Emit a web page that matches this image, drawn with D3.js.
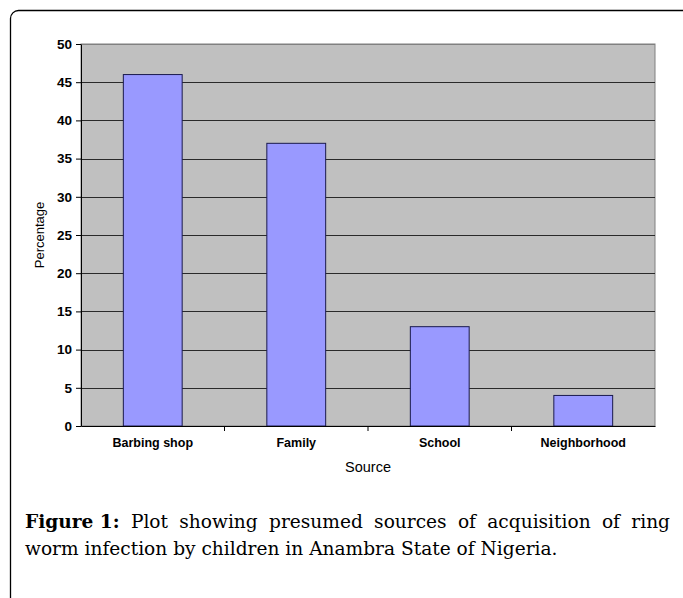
<!DOCTYPE html>
<html><head><meta charset="utf-8">
<script src="https://cdn.jsdelivr.net/npm/d3@7"></script>
<style>html,body{margin:0;padding:0;background:#fff;}svg{display:block;}</style>
</head><body>
<script>
const categories = ["Barbing shop", "Family", "School", "Neighborhood"];
const values = [46, 37, 13, 4];
const yTicks = [0, 5, 10, 15, 20, 25, 30, 35, 40, 45, 50];
const yLabel = "Percentage";
const xLabel = "Source";
const captionBold = "Figure 1:";
const captionLine1 = "Plot showing presumed sources of acquisition of ring";
const captionLine2 = "worm infection by children in Anambra State of Nigeria.";

(function () {
const W = 683, H = 598;
const svg = d3.select("body").append("svg").attr("width", W).attr("height", H);

// outer frame
svg.append("rect").attr("x", 10.5).attr("y", 10.5).attr("width", 690).attr("height", 620)
  .attr("rx", 8).attr("fill", "none").attr("stroke", "#000").attr("stroke-width", 1.3);

const pL = 81, pR = 655, pT = 44, pB = 426;
const x = d3.scaleBand().domain(categories).range([pL, pR]).paddingInner(0).paddingOuter(0);
const y = d3.scaleLinear().domain([0, 50]).range([pB, pT]);

// plot background
svg.append("rect").attr("x", pL).attr("y", pT).attr("width", pR - pL).attr("height", pB - pT)
  .attr("fill", "#c0c0c0").attr("stroke", "#808080").attr("stroke-width", 1);

// gridlines
svg.append("g").selectAll("line").data(yTicks.filter(d => d > 0)).join("line")
  .attr("x1", pL).attr("x2", pR)
  .attr("y1", d => Math.round(y(d)) + 0.5).attr("y2", d => Math.round(y(d)) + 0.5)
  .attr("stroke", d => d === 50 ? "#808080" : "#2a2a2a").attr("stroke-width", 1.2);

// bars
const bw = x.bandwidth() * 0.41;
svg.append("g").selectAll("rect").data(values).join("rect")
  .attr("x", (d, i) => x(categories[i]) + (x.bandwidth() - bw) / 2)
  .attr("y", d => y(d))
  .attr("width", bw)
  .attr("height", d => pB - y(d))
  .attr("fill", "#9999ff").attr("stroke", "#1a1a4d").attr("stroke-width", 1);

// y axis
const yAxis = d3.axisLeft(y).tickValues(yTicks).tickSize(5).tickSizeOuter(0).tickPadding(4);
const gy = svg.append("g").attr("transform", `translate(${pL},0)`).call(yAxis);
gy.select(".domain").attr("stroke", "#000");
gy.selectAll(".tick line").attr("stroke", "#000");
gy.selectAll("text").attr("font-family", "Liberation Sans, Arial, sans-serif")
  .attr("font-weight", "bold").attr("font-size", 13.5).attr("fill", "#000");

// x axis
const xAxis = d3.axisBottom(x).tickSize(0).tickSizeOuter(0).tickPadding(12);
const gx = svg.append("g").attr("transform", `translate(0,${pB})`).call(xAxis);
gx.select(".domain").attr("stroke", "#000");
gx.selectAll("text").attr("font-family", "Liberation Sans, Arial, sans-serif")
  .attr("font-weight", "bold").attr("font-size", 12.5).attr("fill", "#000");
svg.append("g").selectAll("line").data(categories.slice(1)).join("line")
  .attr("x1", d => x(d)).attr("x2", d => x(d))
  .attr("y1", pB).attr("y2", pB + 5).attr("stroke", "#000");

// axis titles
svg.append("text").attr("transform", `translate(44,${(pT + pB) / 2}) rotate(-90)`)
  .attr("text-anchor", "middle").attr("font-family", "Liberation Sans, Arial, sans-serif")
  .attr("font-size", 13).text(yLabel);
svg.append("text").attr("x", (pL + pR) / 2).attr("y", 472)
  .attr("text-anchor", "middle").attr("font-family", "Liberation Sans, Arial, sans-serif")
  .attr("font-size", 14.5).text(xLabel);

// caption
const font = "DejaVu Serif, Liberation Serif, serif";
const line2 = svg.append("text").attr("x", 25).attr("y", 555)
  .attr("font-family", font).attr("font-size", 20).text(captionLine2);
const fs = 20 * 533 / line2.node().getComputedTextLength();
line2.attr("font-size", fs);

const words = [{t: captionBold, b: true}].concat(captionLine1.split(" ").map(t => ({t, b: false})));
const cap = svg.append("text").attr("y", 528).attr("font-family", font).attr("font-size", fs);
const spans = words.map(w => cap.append("tspan").attr("font-weight", w.b ? "bold" : "normal").text(w.t));
const widths = spans.map(s => s.node().getComputedTextLength());
const x0 = 25, x1 = 670;
const gap = (x1 - x0 - d3.sum(widths)) / (words.length - 1);
let cx = x0;
spans.forEach((s, i) => { s.attr("x", cx); cx += widths[i] + gap; });
})();
</script>
</body></html>
